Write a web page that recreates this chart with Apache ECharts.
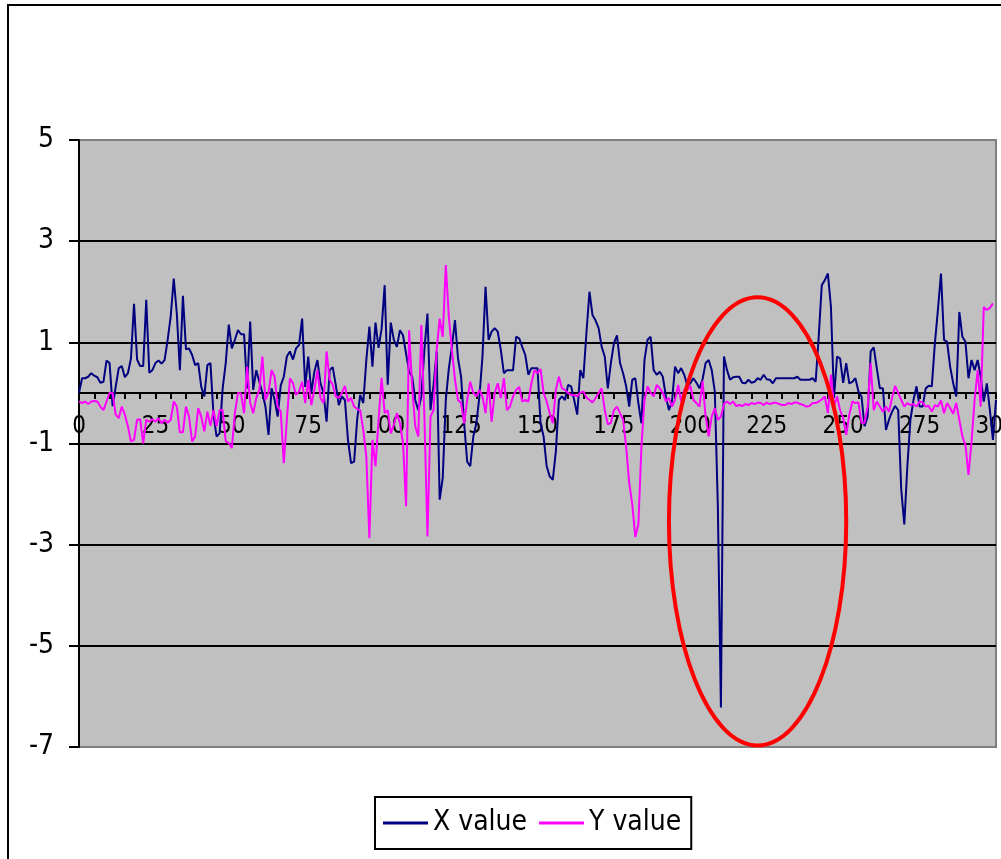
<!DOCTYPE html>
<html>
<head>
<meta charset="utf-8">
<script src="https://cdn.jsdelivr.net/npm/echarts@6/dist/echarts.min.js"></script>
<style>
  html, body { margin: 0; padding: 0; background: #fff; }
  #chart { width: 1001px; height: 859px; }
</style>
</head>
<body>
<div id="chart"></div>
<script>
// Sample index 0..300 along the horizontal axis
const categories = Array.from({ length: 301 }, (_, i) => String(i));

// X value series
const xValues = [
  0, 0.29, 0.29, 0.32, 0.39, 0.34, 0.31, 0.2, 0.22, 0.64,
  0.59, -0.26, 0.12, 0.49, 0.53, 0.31, 0.39, 0.68, 1.76, 0.66,
  0.53, 0.53, 1.84, 0.4, 0.45, 0.59, 0.64, 0.58, 0.65, 1.05,
  1.51, 2.26, 1.57, 0.45, 1.92, 0.86, 0.88, 0.75, 0.55, 0.59,
  0.12, -0.07, 0.55, 0.59, -0.43, -0.86, -0.8, 0.09, 0.59, 1.35,
  0.88, 1.05, 1.24, 1.16, 1.16, 0.09, 1.41, 0.06, 0.45, 0.22,
  0, -0.27, -0.83, 0.09, -0.14, -0.47, 0.15, 0.32, 0.72, 0.82,
  0.66, 0.88, 0.95, 1.47, 0.12, 0.72, 0, 0.42, 0.65, 0.19,
  0, -0.57, 0.45, 0.51, 0.16, -0.24, -0.07, -0.14, -0.93, -1.39,
  -1.36, -0.53, -0.04, -0.2, 0.65, 1.31, 0.52, 1.39, 0.89, 1.27,
  2.13, 0.16, 1.39, 1.05, 0.91, 1.24, 1.14, 0.78, 0.42, 0.32,
  -0.14, -0.34, -0.07, 0.85, 1.57, -0.34, 0.16, 0.82, -2.11, -1.68,
  -0.14, 0.49, 0.91, 1.44, 0.68, 0.32, -0.6, -1.36, -1.45, -0.86,
  -0.6, -0.07, 0.72, 2.1, 1.05, 1.21, 1.28, 1.21, 0.85, 0.39,
  0.45, 0.45, 0.45, 1.11, 1.08, 0.91, 0.75, 0.36, 0.49, 0.49,
  0.49, -0.6, -0.86, -1.45, -1.65, -1.72, -1.16, -0.14, -0.07, -0.14,
  0.16, 0.13, -0.14, -0.43, 0.45, 0.29, 1.18, 2.0, 1.54, 1.43,
  1.28, 0.91, 0.72, 0.09, 0.59, 0.98, 1.14, 0.59, 0.39, 0.13,
  -0.27, 0.26, 0.29, -0.2, -0.6, 0.65, 1.05, 1.11, 0.45, 0.36,
  0.42, 0.32, -0.07, -0.34, -0.17, 0.52, 0.39, 0.49, 0.36, 0.15,
  0.19, 0.29, 0.2, 0.09, 0.27, 0.59, 0.65, 0.45, 0.03, -2.24,
  -6.22, 0.72, 0.45, 0.26, 0.31, 0.32, 0.32, 0.2, 0.19, 0.26,
  0.2, 0.22, 0.29, 0.26, 0.36, 0.27, 0.26, 0.19, 0.29, 0.29,
  0.29, 0.29, 0.29, 0.29, 0.29, 0.32, 0.26, 0.26, 0.26, 0.26,
  0.29, 0.22, 1.11, 2.13, 2.23, 2.36, 1.7, -0.1, 0.72, 0.68,
  0.2, 0.59, 0.19, 0.22, 0.29, 0.03, -0.07, -0.66, -0.47, 0.82,
  0.9, 0.49, 0.09, 0.09, -0.73, -0.53, -0.37, -0.26, -0.34, -1.91,
  -2.6, -1.45, -0.53, -0.14, 0.13, -0.27, -0.27, 0.09, 0.14, 0.13,
  0.98, 1.64, 2.36, 1.05, 1.01, 0.52, 0.19, -0.07, 1.6, 1.11,
  1.01, 0.29, 0.65, 0.45, 0.65, 0.32, -0.17, 0.19, -0.34, -0.93,
  -0.14
];

// Y value series
const yValues = [
  -0.17, -0.2, -0.17, -0.22, -0.17, -0.16, -0.17, -0.27, -0.34, -0.17,
  0, 0, -0.43, -0.5, -0.27, -0.43, -0.66, -0.96, -0.93, -0.53,
  -0.52, -1.0, -0.53, -0.57, -0.52, -0.57, -0.5, -0.6, -0.53, -0.59,
  -0.53, -0.17, -0.27, -0.78, -0.78, -0.27, -0.47, -0.96, -0.86, -0.3,
  -0.47, -0.76, -0.37, -0.65, -0.34, -0.66, -0.34, -0.34, -0.96, -0.99,
  -1.09, -0.4, 0, -0.01, -0.4, 0.52, -0.2, -0.4, -0.1, 0.06,
  0.72, -0.14, 0, 0.45, 0.32, -0.27, -0.37, -1.39, -0.53, 0.29,
  0.19, -0.04, 0.03, 0.22, -0.2, 0.26, -0.24, 0.06, 0.45, -0.1,
  -0.2, 0.82, 0.26, 0.16, -0.07, -0.1, 0, 0.14, -0.17, -0.1,
  -0.27, -0.32, -0.34, -0.73, -1.26, -2.87, -0.93, -1.45, -0.53, 0.3,
  -0.4, -0.34, -0.8, -0.63, -0.4, -0.6, -0.99, -2.24, 1.24, 0.12,
  -0.66, -0.86, 1.34, -0.47, -2.84, -0.47, -0.34, 0.85, 1.47, 1.11,
  2.53, 1.5, 0.85, 0.26, -0.14, -0.2, -0.6, -0.14, 0.22, 0,
  -0.07, 0.06, -0.07, -0.4, 0.19, -0.57, 0, 0.19, -0.1, 0.29,
  -0.34, -0.27, -0.07, 0.06, 0.12, -0.17, -0.14, -0.17, 0.19, 0.45,
  0.39, 0.47, 0, -0.17, -0.4, -0.6, 0.06, 0.32, 0.09, 0.06,
  0, -0.04, -0.04, -0.07, 0, 0.03, -0.09, -0.14, -0.19, -0.1,
  0, 0.09, -0.34, -0.62, -0.59, -0.34, -0.27, -0.4, -0.53, -1.06,
  -1.78, -2.2, -2.85, -2.6, -1.06, -0.14, 0.13, 0, -0.07, 0.16,
  0.09, 0, -0.17, -0.1, -0.27, -0.14, 0.16, -0.17, 0.07, 0.05,
  0.14, -0.14, -0.2, -0.27, 0.24, -0.47, -0.86, -0.47, -0.3, -0.53,
  -0.47, -0.22, -0.17, -0.22, -0.17, -0.26, -0.24, -0.26, -0.22, -0.24,
  -0.2, -0.22, -0.19, -0.2, -0.24, -0.19, -0.22, -0.2, -0.19, -0.22,
  -0.24, -0.24, -0.2, -0.22, -0.19, -0.19, -0.22, -0.24, -0.27, -0.26,
  -0.2, -0.2, -0.17, -0.13, -0.07, -0.4, 0.36, -0.27, -0.07, -0.34,
  -0.5, -0.83, -0.43, -0.17, -0.2, -0.19, -0.59, -0.59, -0.27, 0.59,
  -0.34, -0.17, -0.27, -0.37, -0.27, -0.37, -0.1, 0.14, 0, -0.14,
  -0.27, -0.2, -0.24, -0.22, -0.27, -0.17, -0.19, -0.27, -0.26, -0.37,
  -0.24, -0.27, -0.15, -0.4, -0.2, -0.3, -0.41, -0.2, -0.53, -0.86,
  -1.03, -1.62, -0.96, -0.14, 0.45, -0.27, 1.7, 1.64, 1.68, 1.77
];

// Highlighted region (data units): centre sample, centre value, half-widths
const ringCentre = [222, -2.54];
const ringHalfSpan = [29, 4.43];

const FONT = "'DejaVu Sans Condensed', 'DejaVu Sans', sans-serif";

const chart = echarts.init(document.getElementById('chart'), null, { renderer: 'canvas' });

chart.setOption({
  animation: false,
  backgroundColor: '#ffffff',
  grid: {
    left: 79, top: 140, right: 5, bottom: 112,
    outerBoundsMode: 'none',
    containLabel: false,
    show: true,
    backgroundColor: '#C0C0C0',
    borderColor: '#808080',
    borderWidth: 2
  },
  legend: {
    data: ['X value', 'Y value'],
    left: 375, top: 797,
    orient: 'horizontal',
    icon: 'rect',
    itemWidth: 45, itemHeight: 3,
    itemGap: 12,
    padding: [12, 10, 12, 8],
    borderColor: '#000', borderWidth: 2,
    backgroundColor: '#fff',
    textStyle: { fontFamily: FONT, fontSize: 28, color: '#000' }
  },
  xAxis: {
    type: 'category',
    data: categories,
    boundaryGap: false,
    axisLine: { onZero: false, lineStyle: { color: '#000', width: 2 } },
    axisTick: { show: true, interval: 4, length: 6, inside: false, lineStyle: { color: '#000', width: 2 } },
    axisLabel: { interval: 24, margin: 22, fontFamily: FONT, fontSize: 24, color: '#000', showMinLabel: true, showMaxLabel: true, hideOverlap: false },
    splitLine: { show: false }
  },
  yAxis: {
    type: 'value',
    min: -7, max: 5, interval: 2,
    axisLine: { show: true, onZero: false, lineStyle: { color: '#000', width: 2 } },
    axisTick: { show: true, length: 10, lineStyle: { color: '#000', width: 2 } },
    axisLabel: { margin: 25, fontFamily: FONT, fontSize: 28, color: '#000' },
    splitLine: {
      show: true,
      lineStyle: { color: ['#808080', '#000', '#000', '#000', '#000', '#000', '#808080'], width: 2 }
    }
  },
  series: [
    {
      name: 'X value', type: 'line', data: xValues,
      symbol: 'none', color: '#000080',
      lineStyle: { color: '#000080', width: 2 }
    },
    {
      name: 'Y value', type: 'line', data: yValues,
      symbol: 'none', color: '#FF00FF',
      lineStyle: { color: '#FF00FF', width: 2 }
    }
  ]
});

// Lift the category axis (line, ticks, labels) up to the zero level
const zeroY = chart.convertToPixel({ yAxisIndex: 0 }, 0);
const floorY = chart.convertToPixel({ yAxisIndex: 0 }, -7);

// Red ring around the sharp dip, plus the outer chart frame
const c = chart.convertToPixel({ gridIndex: 0 }, ringCentre);
const edge = chart.convertToPixel({ gridIndex: 0 },
  [ringCentre[0] + ringHalfSpan[0], ringCentre[1] + ringHalfSpan[1]]);
chart.setOption({
  xAxis: { offset: -(floorY - zeroY) },
  graphic: [
    {
      type: 'rect', silent: true, z: 100,
      shape: { x: 8, y: 5, width: 1100, height: 1000 },
      style: { fill: 'none', stroke: '#000', lineWidth: 2 }
    },
    {
      type: 'ellipse', silent: true, z: 100,
      shape: { cx: c[0], cy: c[1], rx: Math.abs(edge[0] - c[0]), ry: Math.abs(c[1] - edge[1]) },
      style: { fill: 'none', stroke: '#FF0000', lineWidth: 4 }
    }
  ]
});
</script>
</body>
</html>
